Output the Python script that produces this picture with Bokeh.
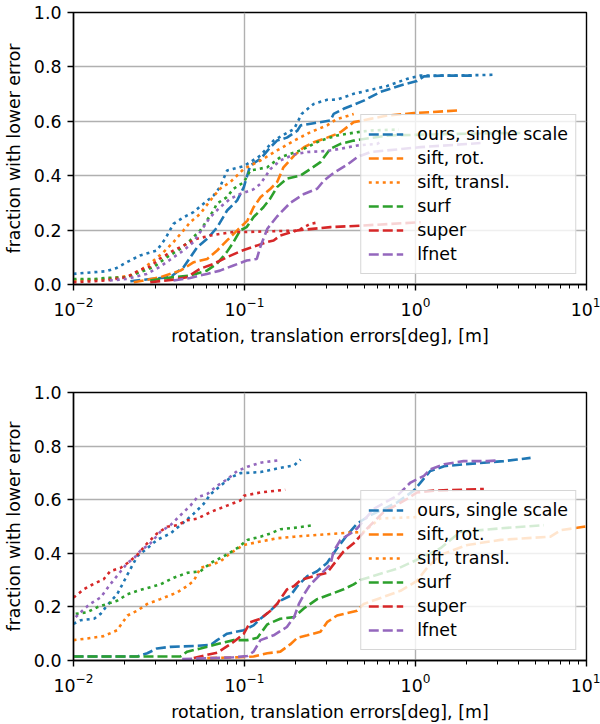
from bokeh.plotting import figure
from bokeh.models import Range1d, FixedTicker, Legend, LegendItem, NumeralTickFormatter
from bokeh.layouts import column
from bokeh.embed import file_html
from bokeh.resources import INLINE

# ---------------- top panel data ----------------
top_ours_rot_x = [0.0215, 0.0281, 0.0368, 0.0441, 0.0529, 0.0605, 0.0692, 0.0791, 0.0906, 0.0991, 0.108, 0.124, 0.142, 0.155, 0.177, 0.204, 0.213, 0.254, 0.318, 0.332, 0.380, 0.498, 0.624, 0.817, 1.02, 1.12, 1.40, 2.24]
top_ours_rot_y = [0.012, 0.02, 0.027, 0.064, 0.137, 0.168, 0.21, 0.272, 0.309, 0.358, 0.4375, 0.462, 0.505, 0.529, 0.54, 0.566, 0.585, 0.593, 0.603, 0.627, 0.646, 0.676, 0.708, 0.732, 0.748, 0.765, 0.768, 0.768]
top_ours_tr_x = [0.0100, 0.0156, 0.0179, 0.0205, 0.0245, 0.0307, 0.0344, 0.0384, 0.0440, 0.0503, 0.0576, 0.0659, 0.0719, 0.0791, 0.0990, 0.124, 0.148, 0.195, 0.216, 0.254, 0.304, 0.348, 0.435, 0.683, 0.894, 1.07, 1.66, 2.87]
top_ours_tr_y = [0.039, 0.049, 0.061, 0.082, 0.107, 0.125, 0.168, 0.223, 0.247, 0.266, 0.297, 0.327, 0.358, 0.419, 0.435, 0.474, 0.529, 0.572, 0.627, 0.664, 0.679, 0.68, 0.701, 0.73, 0.756, 0.768, 0.768, 0.771]

top_sift_rot_x = [0.0225, 0.0322, 0.0422, 0.0505, 0.0605, 0.0692, 0.0791, 0.0906, 0.104, 0.113, 0.124, 0.142, 0.155, 0.169, 0.195, 0.223, 0.254, 0.304, 0.348, 0.364, 0.435, 0.545, 0.683, 0.977, 1.79]
top_sift_rot_y = [0.008, 0.027, 0.051, 0.082, 0.094, 0.125, 0.162, 0.199, 0.235, 0.284, 0.321, 0.352, 0.376, 0.431, 0.474, 0.505, 0.523, 0.54, 0.554, 0.56, 0.597, 0.609, 0.621, 0.63, 0.64]
top_sift_tr_x = [0.0100, 0.0156, 0.0215, 0.0245, 0.0294, 0.0336, 0.0384, 0.0440, 0.0481, 0.0551, 0.0631, 0.0719, 0.0824, 0.0991, 0.124, 0.155, 0.195, 0.243, 0.304, 0.348, 0.380, 0.435]
top_sift_tr_y = [0.015, 0.02, 0.033, 0.051, 0.088, 0.119, 0.156, 0.199, 0.229, 0.26, 0.309, 0.352, 0.376, 0.425, 0.456, 0.493, 0.529, 0.56, 0.585, 0.609, 0.615, 0.627]

top_surf_rot_x = [0.0281, 0.0384, 0.0481, 0.0602, 0.0689, 0.0788, 0.0862, 0.0944, 0.103, 0.113, 0.129, 0.141, 0.155, 0.177, 0.213, 0.243, 0.278, 0.318, 0.364, 0.435, 0.498, 0.70, 1.5, 4.1]
top_surf_rot_y = [0.015, 0.027, 0.033, 0.051, 0.076, 0.119, 0.156, 0.199, 0.211, 0.248, 0.284, 0.315, 0.358, 0.389, 0.401, 0.425, 0.45, 0.499, 0.517, 0.529, 0.535, 0.548, 0.553, 0.557]
top_surf_tr_x = [0.0100, 0.0131, 0.0156, 0.0205, 0.0245, 0.0294, 0.0351, 0.0421, 0.0481, 0.0551, 0.0602, 0.0659, 0.0689, 0.0788, 0.0862, 0.0991, 0.108, 0.136, 0.162, 0.213, 0.278, 0.348, 0.456, 0.545, 0.80]
top_surf_tr_y = [0.02, 0.02, 0.024, 0.027, 0.045, 0.064, 0.10, 0.131, 0.162, 0.199, 0.235, 0.272, 0.297, 0.321, 0.352, 0.376, 0.419, 0.431, 0.468, 0.493, 0.529, 0.548, 0.56, 0.566, 0.57]

top_super_rot_x = [0.0281, 0.0384, 0.0460, 0.0551, 0.0659, 0.0788, 0.0944, 0.118, 0.135, 0.148, 0.162, 0.204, 0.318, 0.498, 1.07]
top_super_rot_y = [0.008, 0.018, 0.027, 0.058, 0.076, 0.10, 0.122, 0.143, 0.156, 0.162, 0.18, 0.199, 0.211, 0.217, 0.229]
top_super_tr_x = [0.0100, 0.0156, 0.0205, 0.0245, 0.0281, 0.0318, 0.0384, 0.0440, 0.0526, 0.0631, 0.0719, 0.0862, 0.103, 0.148, 0.204, 0.243, 0.272]
top_super_tr_y = [0.008, 0.015, 0.027, 0.054, 0.066, 0.094, 0.125, 0.143, 0.168, 0.18, 0.186, 0.193, 0.193, 0.196, 0.198, 0.223, 0.229]

top_lfnet_rot_x = [0.0384, 0.0481, 0.0602, 0.0719, 0.0862, 0.103, 0.118, 0.124, 0.136, 0.155, 0.185, 0.223, 0.266, 0.291, 0.332, 0.398, 0.456, 0.545, 1.07, 2.40]
top_lfnet_rot_y = [0.015, 0.024, 0.039, 0.051, 0.07, 0.088, 0.094, 0.14, 0.205, 0.25, 0.30, 0.333, 0.352, 0.382, 0.41, 0.44, 0.468, 0.487, 0.505, 0.52]
top_lfnet_tr_x = [0.0163, 0.0205, 0.0268, 0.0318, 0.0384, 0.0440, 0.0503, 0.0576, 0.0631, 0.0719, 0.0824, 0.0944, 0.113, 0.124, 0.142, 0.162, 0.195, 0.233, 0.304, 0.364, 0.456, 0.597, 0.620]
top_lfnet_tr_y = [0.015, 0.02, 0.039, 0.064, 0.10, 0.125, 0.156, 0.211, 0.248, 0.284, 0.315, 0.333, 0.35, 0.37, 0.425, 0.456, 0.478, 0.487, 0.491, 0.499, 0.511, 0.517, 0.523]

# ---------------- bottom panel data ----------------
bot_ours_rot_x = [0.0100, 0.0236, 0.0270, 0.0308, 0.0369, 0.0505, 0.0634, 0.0692, 0.0791, 0.0991, 0.113, 0.124, 0.142, 0.162, 0.185, 0.204, 0.233, 0.266, 0.304, 0.348, 0.398, 0.456, 0.545, 0.782, 0.977, 1.07, 1.22, 1.47, 1.91, 2.51, 3.28, 3.93, 4.71]
bot_ours_rot_y = [0.015, 0.015, 0.027, 0.045, 0.051, 0.054, 0.058, 0.076, 0.10, 0.113, 0.131, 0.156, 0.186, 0.223, 0.241, 0.278, 0.315, 0.333, 0.364, 0.419, 0.468, 0.511, 0.542, 0.59, 0.634, 0.664, 0.707, 0.725, 0.732, 0.738, 0.744, 0.75, 0.756]
bot_ours_tr_x = [0.0100, 0.0110, 0.0132, 0.0144, 0.0157, 0.0180, 0.0207, 0.0236, 0.0270, 0.0308, 0.0369, 0.0422, 0.0505, 0.0578, 0.0634, 0.0724, 0.0828, 0.0947, 0.124, 0.162, 0.195, 0.213]
bot_ours_tr_y = [0.137, 0.15, 0.156, 0.174, 0.205, 0.247, 0.321, 0.389, 0.419, 0.45, 0.474, 0.505, 0.548, 0.585, 0.621, 0.652, 0.683, 0.699, 0.703, 0.719, 0.728, 0.75]

bot_sift_rot_x = [0.0605, 0.0947, 0.113, 0.136, 0.162, 0.185, 0.204, 0.233, 0.278, 0.304, 0.348, 0.456, 0.498, 0.817, 1.02, 1.17, 1.40, 2.01, 3.14, 6.16, 7.05, 9.64, 10.0]
bot_sift_rot_y = [0.009, 0.012, 0.015, 0.027, 0.033, 0.060, 0.085, 0.094, 0.107, 0.143, 0.168, 0.186, 0.211, 0.26, 0.297, 0.346, 0.394, 0.431, 0.45, 0.462, 0.486, 0.499, 0.50]
bot_sift_tr_x = [0.0100, 0.0120, 0.0150, 0.0180, 0.0207, 0.0236, 0.0270, 0.0322, 0.0404, 0.0462, 0.0505, 0.0553, 0.0605, 0.0724, 0.0828, 0.0991, 0.124, 0.155, 0.195, 0.348, 0.498, 0.62, 1.03]
bot_sift_tr_y = [0.076, 0.082, 0.091, 0.113, 0.168, 0.186, 0.211, 0.229, 0.254, 0.278, 0.297, 0.346, 0.352, 0.37, 0.401, 0.431, 0.444, 0.456, 0.462, 0.474, 0.48, 0.53, 0.535]

bot_surf_rot_x = [0.0100, 0.0422, 0.0462, 0.0553, 0.0661, 0.0724, 0.0866, 0.104, 0.119, 0.136, 0.162, 0.195, 0.223, 0.266, 0.318, 0.380, 0.435, 0.475, 0.80, 1.14, 1.40, 1.83, 3.14, 5.63]
bot_surf_rot_y = [0.015, 0.015, 0.033, 0.045, 0.058, 0.064, 0.076, 0.076, 0.085, 0.135, 0.156, 0.162, 0.195, 0.229, 0.247, 0.266, 0.284, 0.300, 0.345, 0.39, 0.419, 0.48, 0.493, 0.505]
bot_surf_tr_x = [0.0103, 0.0120, 0.0138, 0.0157, 0.0180, 0.0207, 0.0236, 0.0270, 0.0322, 0.0386, 0.0462, 0.0553, 0.0634, 0.0757, 0.0906, 0.104, 0.124, 0.142, 0.162, 0.195, 0.254]
bot_surf_tr_y = [0.174, 0.18, 0.199, 0.211, 0.223, 0.247, 0.26, 0.27, 0.284, 0.309, 0.327, 0.333, 0.364, 0.389, 0.419, 0.45, 0.462, 0.474, 0.49, 0.495, 0.505]

bot_super_rot_x = [0.0505, 0.0605, 0.0692, 0.0757, 0.0866, 0.0991, 0.108, 0.124, 0.142, 0.155, 0.177, 0.195, 0.213, 0.254, 0.304, 0.348, 0.380, 0.435, 0.522, 0.652, 0.894, 1.02, 1.28, 2.51]
bot_super_rot_y = [0.009, 0.021, 0.029, 0.045, 0.07, 0.1, 0.143, 0.156, 0.186, 0.211, 0.265, 0.278, 0.30, 0.315, 0.327, 0.376, 0.407, 0.4375, 0.493, 0.554, 0.603, 0.627, 0.634, 0.64]
bot_super_tr_x = [0.0100, 0.0115, 0.0132, 0.0150, 0.0164, 0.0189, 0.0207, 0.0236, 0.0270, 0.0308, 0.0353, 0.0404, 0.0462, 0.0529, 0.0634, 0.0791, 0.0947, 0.0991, 0.124, 0.173]
bot_super_tr_y = [0.235, 0.266, 0.287, 0.303, 0.333, 0.346, 0.364, 0.394, 0.4375, 0.474, 0.499, 0.505, 0.523, 0.529, 0.554, 0.578, 0.597, 0.615, 0.627, 0.637]

bot_lfnet_rot_x = [0.0432, 0.0634, 0.0866, 0.104, 0.113, 0.124, 0.148, 0.177, 0.195, 0.208, 0.223, 0.243, 0.278, 0.318, 0.332, 0.364, 0.417, 0.456, 0.570, 0.782, 0.935, 1.12, 1.22, 1.47, 1.91, 2.62, 3.0]
bot_lfnet_rot_y = [0.005, 0.009, 0.012, 0.017, 0.033, 0.076, 0.094, 0.125, 0.162, 0.211, 0.247, 0.284, 0.321, 0.358, 0.407, 0.450, 0.474, 0.493, 0.566, 0.615, 0.664, 0.689, 0.713, 0.732, 0.744, 0.744, 0.746]
bot_lfnet_tr_x = [0.0103, 0.0110, 0.0125, 0.0144, 0.0164, 0.0189, 0.0207, 0.0226, 0.0246, 0.0282, 0.0322, 0.0369, 0.0422, 0.0483, 0.0529, 0.0605, 0.0692, 0.0791, 0.0906, 0.104, 0.124, 0.158]
bot_lfnet_tr_y = [0.162, 0.18, 0.211, 0.235, 0.284, 0.333, 0.364, 0.382, 0.409, 0.4375, 0.48, 0.505, 0.542, 0.578, 0.609, 0.621, 0.652, 0.676, 0.707, 0.723, 0.738, 0.747]

# ---------------- ticks / labels ----------------
x_major_ticks = [0.01, 0.1, 1, 10]
x_minor_ticks = [k * 10.0 ** e for e in (-2, -1, 0) for k in range(2, 10)]
y_ticks = [0.0, 0.2, 0.4, 0.6, 0.8, 1.0]
x_label = "rotation, translation errors[deg], [m]"
y_label = "fraction with lower error"

legend_labels = ["ours, single scale", "sift, rot.", "sift, transl.", "surf", "super", "lfnet"]

BLUE, ORANGE, GREEN, RED, PURPLE = "#1f77b4", "#ff7f0e", "#2ca02c", "#d62728", "#9467bd"
DASH, DOT = "10 4", "3 4"
FONT = "DejaVu Sans"
FS = "17.4px"


def make_panel(series, height, btop, bbottom):
    p = figure(width=600, height=height, x_axis_type="log",
               x_range=Range1d(0.01, 10), y_range=Range1d(0, 1),
               output_backend="svg", toolbar_location=None,
               min_border_left=73, min_border_right=14,
               min_border_top=btop, min_border_bottom=bbottom)
    p.background_fill_color = "white"
    p.border_fill_color = "white"
    p.outline_line_color = "black"
    p.outline_line_width = 1.4

    p.xaxis.ticker = FixedTicker(ticks=x_major_ticks, minor_ticks=x_minor_ticks)
    p.yaxis.ticker = FixedTicker(ticks=y_ticks, minor_ticks=[])
    p.yaxis.formatter = NumeralTickFormatter(format="0.0")
    p.xaxis.axis_label = x_label
    p.yaxis.axis_label = y_label
    for ax in (p.xaxis, p.yaxis):
        ax.axis_label_text_font = FONT
        ax.axis_label_text_font_size = FS
        ax.axis_label_text_font_style = "normal"
        ax.axis_label_text_color = "black"
        ax.major_label_text_font = FONT
        ax.major_label_text_font_size = FS
        ax.major_label_text_color = "black"
        ax.axis_line_color = "black"
        ax.axis_line_width = 1.4
        ax.major_tick_line_color = "black"
        ax.major_tick_line_width = 1.4
        ax.major_tick_out = 6
        ax.major_tick_in = 0
        ax.minor_tick_line_color = "black"
        ax.minor_tick_line_width = 1
        ax.minor_tick_out = 4
        ax.minor_tick_in = 0
        ax.major_label_standoff = 6
        ax.axis_label_standoff = 7
    p.yaxis.minor_tick_line_color = None

    p.grid.grid_line_color = "#b0b0b0"
    p.grid.grid_line_width = 1.4

    rs = {}
    for key, xs, ys, color, dash in series:
        rs[key] = p.line(xs, ys, line_color=color, line_width=2.6, line_dash=dash)

    keys = ["ours_rot", "sift_rot", "sift_tr", "surf_rot", "super_rot", "lfnet_rot"]
    items = [LegendItem(label=lab, renderers=[rs[k]]) for lab, k in zip(legend_labels, keys)]
    leg = Legend(items=items, location="bottom_right")
    leg.margin = 10
    leg.padding = 7
    leg.spacing = 0
    leg.label_height = 24
    leg.glyph_height = 24
    leg.glyph_width = 35
    leg.label_standoff = 14
    leg.label_text_font = FONT
    leg.label_text_font_size = FS
    leg.label_text_color = "black"
    leg.background_fill_color = "white"
    leg.background_fill_alpha = 0.8
    leg.border_line_color = "#cccccc"
    leg.border_line_alpha = 0.8
    leg.border_line_width = 1.5
    p.add_layout(leg)
    return p


top_series = [
    ("ours_rot", top_ours_rot_x, top_ours_rot_y, BLUE, DASH),
    ("ours_tr", top_ours_tr_x, top_ours_tr_y, BLUE, DOT),
    ("sift_rot", top_sift_rot_x, top_sift_rot_y, ORANGE, DASH),
    ("sift_tr", top_sift_tr_x, top_sift_tr_y, ORANGE, DOT),
    ("surf_rot", top_surf_rot_x, top_surf_rot_y, GREEN, DASH),
    ("surf_tr", top_surf_tr_x, top_surf_tr_y, GREEN, DOT),
    ("super_rot", top_super_rot_x, top_super_rot_y, RED, DASH),
    ("super_tr", top_super_tr_x, top_super_tr_y, RED, DOT),
    ("lfnet_rot", top_lfnet_rot_x, top_lfnet_rot_y, PURPLE, DASH),
    ("lfnet_tr", top_lfnet_tr_x, top_lfnet_tr_y, PURPLE, DOT),
]
bot_series = [
    ("ours_rot", bot_ours_rot_x, bot_ours_rot_y, BLUE, DASH),
    ("ours_tr", bot_ours_tr_x, bot_ours_tr_y, BLUE, DOT),
    ("sift_rot", bot_sift_rot_x, bot_sift_rot_y, ORANGE, DASH),
    ("sift_tr", bot_sift_tr_x, bot_sift_tr_y, ORANGE, DOT),
    ("surf_rot", bot_surf_rot_x, bot_surf_rot_y, GREEN, DASH),
    ("surf_tr", bot_surf_tr_x, bot_surf_tr_y, GREEN, DOT),
    ("super_rot", bot_super_rot_x, bot_super_rot_y, RED, DASH),
    ("super_tr", bot_super_tr_x, bot_super_tr_y, RED, DOT),
    ("lfnet_rot", bot_lfnet_rot_x, bot_lfnet_rot_y, PURPLE, DASH),
    ("lfnet_tr", bot_lfnet_tr_x, bot_lfnet_tr_y, PURPLE, DOT),
]

p1 = make_panel(top_series, 368, 12, 84)
p2 = make_panel(bot_series, 356, 24, 60)
layout = column(p1, p2, spacing=0, styles={"margin-top": "0px", "margin-left": "0px"})

open("out.html", "w").write(file_html(layout, INLINE))
